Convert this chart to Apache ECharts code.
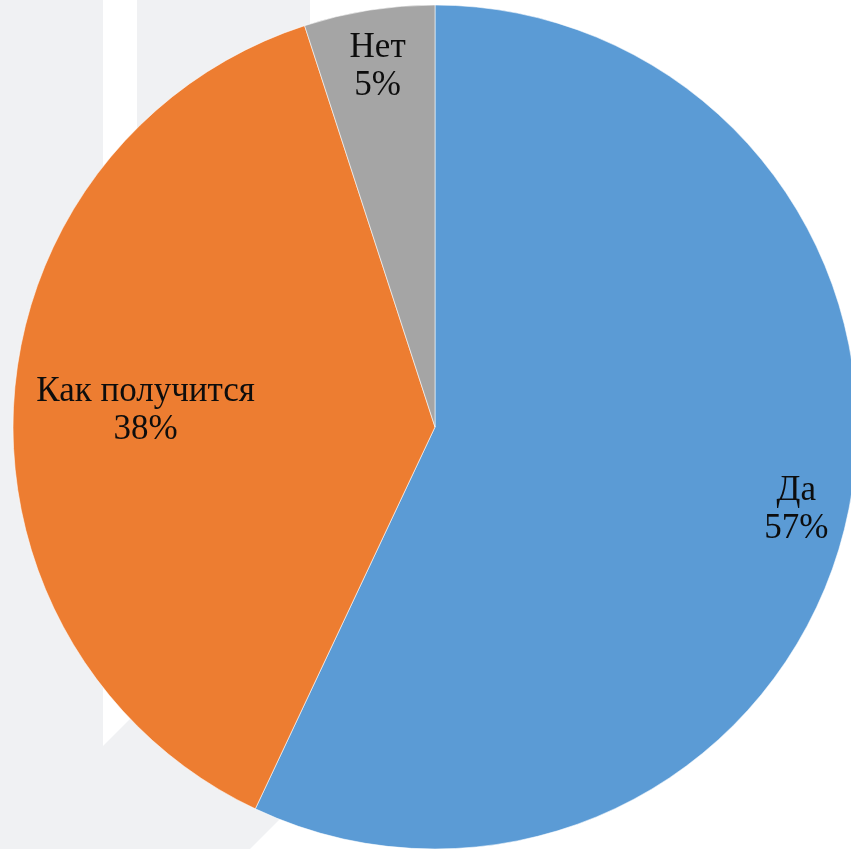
<!DOCTYPE html>
<html>
<head>
<meta charset="utf-8">
<script src="https://cdn.jsdelivr.net/npm/echarts@6/dist/echarts.min.js"></script>
<style>
html,body{margin:0;padding:0;background:#fff;}
#chart{width:851px;height:849px;}
</style>
</head>
<body>
<div id="chart"></div>
<script>
var categories = ['Да', 'Как получится', 'Нет'];
var values = [57, 38, 5];
var colors = ['#5b9bd5', '#ed7d31', '#a5a5a5'];
var labelRadiusRatio = [0.87, 0.68, 0.862];

var R = 422;
var total = values.reduce(function (a, b) { return a + b; }, 0);
var cum = 0;
var data = categories.map(function (name, i) {
  var mid = (cum + values[i] / 2) / total * 2 * Math.PI;
  cum += values[i];
  var d = (labelRadiusRatio[i] - 0.5) * R;
  return {
    name: name,
    value: values[i],
    itemStyle: { color: colors[i] },
    label: { offset: [d * Math.sin(mid), -d * Math.cos(mid) + 2] }
  };
});

var chart = echarts.init(document.getElementById('chart'));
chart.setOption({
  backgroundColor: '#ffffff',
  animation: false,
  graphic: [{
    type: 'polygon',
    z: -10,
    silent: true,
    shape: {
      points: [[0,0],[103,0],[103,746],[137,712],[137,0],[310,0],[310,789],[250,849],[0,849]]
    },
    style: { fill: '#f0f1f3' }
  }],
  series: [{
    type: 'pie',
    center: [435, 427],
    radius: [0, R],
    startAngle: 90,
    clockwise: true,
    avoidLabelOverlap: false,
    itemStyle: { borderColor: 'rgba(255,255,255,0.7)', borderWidth: 0.8 },
    label: {
      show: true,
      position: 'inside',
      formatter: '{b}\n{d}%',
      color: '#0d0d0d',
      fontFamily: 'Liberation Serif',
      fontSize: 35,
      lineHeight: 38
    },
    labelLine: { show: false },
    emphasis: { disabled: true },
    data: data
  }]
});
</script>
</body>
</html>
